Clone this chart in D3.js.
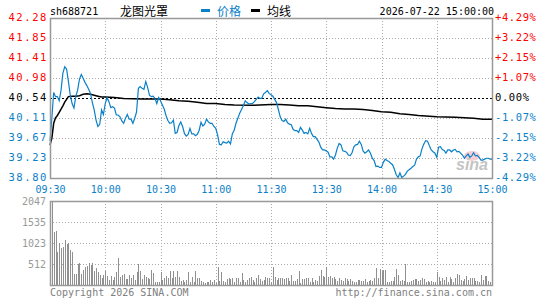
<!DOCTYPE html>
<html>
<head>
<meta charset="utf-8">
<script src="https://cdn.jsdelivr.net/npm/d3@7/dist/d3.min.js"></script>
<style>
  body { margin: 0; background: #fff; }
  svg { display: block; }
  .mono { font-family: "DejaVu Sans Mono", "Liberation Mono", monospace; }
  .cjk { font-family: "Noto Sans CJK SC", sans-serif; }
</style>
</head>
<body>
<svg id="chart" width="545" height="300"></svg>
<script>
// tick labels
const priceTicks = [42.28, 41.85, 41.41, 40.98, 40.54, 40.11, 39.67, 39.23, 38.80]
const pctTicks = ['+4.29%', '+3.22%', '+2.15%', '+1.07%', '0.00%', '-1.07%', '-2.15%', '-3.22%', '-4.29%']
const timeTicks = [0, 30, 60, 90, 120, 150, 180, 210, 240]
const timeLabels = ['09:30', '10:00', '10:30', '11:00', '11:30', '13:30', '14:00', '14:30', '15:00']
const volTicks = [2047, 1535, 1023, 512]
const prevClose = 40.54

// price, one value per minute (0 = 09:30, 240 = 15:00)
const price = [
  39.60, 40.10, 40.66, 40.57, 40.57, 40.48, 40.71, 41.08, 41.22, 41.17,
  40.90, 40.60, 40.42, 40.32, 40.57, 40.71, 40.95, 41.05, 40.97, 40.88,
  40.81, 40.73, 40.64, 40.44, 40.28, 40.06, 39.92, 39.97, 40.28, 40.18,
  40.42, 40.55, 40.46, 40.33, 40.35, 40.32, 40.17, 40.17, 40.13, 40.04,
  39.99, 40.10, 40.18, 40.08, 40.08, 39.99, 40.10, 40.24, 40.75, 40.79,
  40.75, 40.73, 40.90, 40.77, 40.60, 40.57, 40.58, 40.53, 40.42, 40.55,
  40.48, 40.39, 40.30, 40.16, 40.05, 39.99, 40.00, 40.06, 39.77, 39.79,
  39.94, 40.02, 39.92, 39.77, 39.71, 39.75, 39.88, 39.76, 39.76, 39.72,
  39.75, 39.84, 40.01, 39.93, 39.97, 40.08, 40.02, 39.99, 39.99, 39.92,
  39.88, 39.74, 39.53, 39.52, 39.59, 39.57, 39.56, 39.60, 39.54, 39.76,
  39.84, 39.99, 40.10, 40.21, 40.29, 40.37, 40.48, 40.44, 40.41, 40.42,
  40.42, 40.46, 40.51, 40.56, 40.53, 40.53, 40.63, 40.66, 40.70, 40.64,
  40.61, 40.58, 40.51, 40.44, 40.29, 40.13, 40.05, 40.03, 40.08, 40.00,
  39.97, 39.96, 39.86, 39.83, 39.83, 39.79, 39.90, 39.84, 39.77, 39.79,
  39.76, 39.88, 39.77, 39.70, 39.70, 39.64, 39.58, 39.47, 39.41, 39.41,
  39.39, 39.36, 39.26, 39.26, 39.21, 39.30, 39.45, 39.55, 39.52, 39.39,
  39.38, 39.36, 39.30, 39.29, 39.35, 39.48, 39.52, 39.53, 39.60, 39.53,
  39.39, 39.34, 39.37, 39.41, 39.34, 39.23, 39.18, 39.05, 39.06, 39.03,
  39.03, 39.14, 39.21, 39.18, 39.16, 39.12, 39.09, 38.99, 38.87, 38.81,
  38.91, 38.81, 38.84, 38.88, 38.95, 38.98, 39.01, 39.05, 39.08, 39.21,
  39.26, 39.28, 39.44, 39.54, 39.61, 39.60, 39.50, 39.41, 39.37, 39.34,
  39.25, 39.47, 39.48, 39.42, 39.40, 39.34, 39.41, 39.41, 39.37, 39.41,
  39.42, 39.37, 39.38, 39.34, 39.30, 39.23, 39.28, 39.32, 39.25, 39.28,
  39.35, 39.28, 39.29, 39.25, 39.19, 39.19, 39.21, 39.23, 39.23, 39.21,
  39.21
]

// average line, read at these minutes
const avgMinutes = [0, 1, 2, 3, 4, 5, 6, 7, 8, 9, 10, 12, 14, 16, 18, 20, 22, 24, 26, 28,
  30, 35, 40, 50, 60, 65, 70, 75, 80, 85, 90, 95, 100, 110, 120, 125, 130, 135, 140, 145,
  150, 155, 160, 165, 170, 175, 180, 185, 190, 195, 200, 210, 220, 225, 230, 235, 240]
const avgValues = [39.52, 39.66, 39.99, 40.11, 40.16, 40.23, 40.30, 40.37, 40.45, 40.51,
  40.57, 40.58, 40.58, 40.59, 40.62, 40.63, 40.62, 40.60, 40.58, 40.56,
  40.56, 40.55, 40.53, 40.52, 40.52, 40.50, 40.48, 40.47, 40.45, 40.42,
  40.42, 40.40, 40.39, 40.38, 40.40, 40.40, 40.39, 40.37, 40.37, 40.35,
  40.33, 40.31, 40.30, 40.30, 40.29, 40.27, 40.24, 40.23, 40.20, 40.18,
  40.16, 40.13, 40.12, 40.11, 40.10, 40.08, 40.08]

// volume per minute
const volume = [
  200, 2047, 1300, 1316, 812, 1015, 910, 934, 1097, 991,
  1015, 853, 812, 268, 268, 512, 536, 268, 366, 447,
  471, 528, 487, 528, 341, 422, 309, 244, 162, 244,
  341, 227, 130, 227, 122, 200, 325, 666, 195, 244,
  260, 146, 146, 244, 162, 244, 122, 325, 504, 341,
  146, 244, 203, 162, 146, 366, 300, 65, 81, 65,
  309, 122, 162, 227, 162, 341, 162, 341, 203, 341,
  203, 97, 122, 65, 120, 325, 65, 203, 65, 341,
  179, 179, 97, 65, 41, 65, 65, 122, 65, 122,
  41, 447, 97, 325, 97, 81, 146, 179, 146, 179,
  65, 179, 179, 65, 284, 122, 65, 122, 162, 203,
  122, 65, 162, 244, 146, 97, 120, 203, 162, 162,
  81, 447, 203, 122, 179, 162, 162, 146, 179, 162,
  97, 244, 97, 97, 146, 341, 41, 146, 146, 162,
  179, 65, 162, 81, 122, 97, 227, 366, 227, 203,
  447, 203, 227, 179, 203, 146, 97, 162, 122, 97,
  162, 146, 97, 146, 97, 65, 65, 122, 122, 97,
  97, 146, 65, 97, 122, 97, 162, 422, 162, 390,
  341, 366, 357, 65, 65, 97, 97, 203, 390, 244,
  97, 122, 97, 504, 65, 65, 97, 122, 146, 146,
  97, 122, 162, 146, 65, 97, 65, 97, 65, 65,
  309, 203, 97, 179, 122, 203, 65, 203, 146, 65,
  179, 260, 244, 122, 97, 146, 227, 122, 179, 162,
  179, 97, 97, 65, 244, 122, 227, 227, 97, 65,
  97
]

const RED = '#ff0000'
const BLUE = '#0a80c8'
const GRID = '#aaaaaa'
const FRAME = '#999999'

const svg = d3.select('#chart')

const x = d3.scaleLinear().domain([0, 240]).range([50, 492])
const y = d3.scaleLinear().domain([38.80, 42.28]).range([178, 18])
const yv = d3.scaleLinear().domain([0, 2047]).range([285, 201])

const labelColor = v => v > prevClose ? RED : (v < prevClose ? BLUE : '#000')

// header
svg.append('text').attr('class', 'mono').attr('x', 50).attr('y', 15)
  .attr('font-size', 10).text('sh688721')
svg.append('text').attr('class', 'cjk').attr('x', 120).attr('y', 16)
  .attr('font-size', 12).text('龙图光罩')
svg.append('rect').attr('x', 201).attr('y', 9).attr('width', 9).attr('height', 3).attr('fill', BLUE)
svg.append('text').attr('class', 'cjk').attr('x', 217).attr('y', 16)
  .attr('font-size', 12).attr('fill', BLUE).text('价格')
svg.append('rect').attr('x', 251).attr('y', 9).attr('width', 9).attr('height', 3).attr('fill', '#000')
svg.append('text').attr('class', 'cjk').attr('x', 267).attr('y', 16)
  .attr('font-size', 12).text('均线')
svg.append('text').attr('class', 'mono').attr('x', 494).attr('y', 15)
  .attr('text-anchor', 'end').attr('font-size', 10).text('2026-07-22 15:00:00')

// grids
const grid = svg.append('g').attr('shape-rendering', 'crispEdges')
grid.selectAll('.hg').data(priceTicks.filter(v => v !== prevClose && v !== 42.28 && v !== 38.80))
  .join('line')
  .attr('x1', 50).attr('x2', 492)
  .attr('y1', d => Math.round(y(d)) + 0.5).attr('y2', d => Math.round(y(d)) + 0.5)
  .attr('stroke', GRID).attr('stroke-dasharray', '1,2')
grid.selectAll('.vg').data(timeTicks.slice(1, -1))
  .join('line')
  .attr('x1', d => Math.round(x(d)) + 0.5).attr('x2', d => Math.round(x(d)) + 0.5)
  .attr('y1', 18).attr('y2', 178)
  .attr('stroke', GRID).attr('stroke-dasharray', '1,2')
grid.append('line')
  .attr('x1', 50).attr('x2', 492)
  .attr('y1', Math.round(y(prevClose)) + 0.5).attr('y2', Math.round(y(prevClose)) + 0.5)
  .attr('stroke', '#000').attr('stroke-dasharray', '2,2')

// volume grid
const vgrid = svg.append('g').attr('shape-rendering', 'crispEdges')
vgrid.selectAll('line.h').data(volTicks.slice(1))
  .join('line')
  .attr('x1', 50).attr('x2', 492)
  .attr('y1', d => Math.round(yv(d)) + 0.5).attr('y2', d => Math.round(yv(d)) + 0.5)
  .attr('stroke', GRID).attr('stroke-dasharray', '1,2')
vgrid.selectAll('line.v').data(timeTicks.slice(1, -1))
  .join('line')
  .attr('x1', d => Math.round(x(d)) + 0.5).attr('x2', d => Math.round(x(d)) + 0.5)
  .attr('y1', 201).attr('y2', 285)
  .attr('stroke', GRID).attr('stroke-dasharray', '1,2')

// sina watermark
svg.append('ellipse').attr('cx', 472).attr('cy', 156).attr('rx', 8).attr('ry', 5)
  .attr('fill', '#f5c4c8').attr('opacity', 0.8)
svg.append('text').attr('x', 456).attr('y', 170)
  .attr('font-family', 'Liberation Sans, sans-serif').attr('font-style', 'italic')
  .attr('font-weight', 'bold').attr('font-size', 16).attr('fill', '#c4c4c4').text('sina')

// volume bars
svg.append('g').attr('shape-rendering', 'crispEdges')
  .selectAll('rect').data(volume).join('rect')
  .attr('x', (d, i) => Math.round(x(i)))
  .attr('width', 1)
  .attr('y', d => Math.round(yv(Math.min(d, 2047))))
  .attr('height', d => 285 - Math.round(yv(Math.min(d, 2047))))
  .attr('fill', '#909090')

// lines
svg.append('path').datum(avgValues)
  .attr('fill', 'none').attr('stroke', '#000').attr('stroke-width', 1.5)
  .attr('d', d3.line().x((d, i) => x(avgMinutes[i])).y(d => y(d)))

svg.append('path').datum(price)
  .attr('fill', 'none').attr('stroke', BLUE).attr('stroke-width', 1.2)
  .attr('d', d3.line().x((d, i) => x(i)).y(d => y(d)))

// frames
svg.append('rect').attr('x', 50.5).attr('y', 18.5).attr('width', 442).attr('height', 160)
  .attr('fill', 'none').attr('stroke', FRAME).attr('stroke-width', 1.5)
svg.append('rect').attr('x', 50.5).attr('y', 201.5).attr('width', 442).attr('height', 84)
  .attr('fill', 'none').attr('stroke', FRAME).attr('stroke-width', 1.5)

// price axis
const leftAxis = svg.append('g').attr('class', 'mono')
  .attr('transform', 'translate(48,-1)')
  .call(d3.axisLeft(y).tickValues(priceTicks).tickSize(0).tickPadding(0).tickFormat(d3.format('.2f')))
leftAxis.select('.domain').remove()
leftAxis.selectAll('text')
  .attr('font-size', 10.5).attr('letter-spacing', '1.6px')
  .attr('fill', d => labelColor(d))
leftAxis.attr('font-family', null)

const rightAxis = svg.append('g').attr('class', 'mono')
  .attr('transform', 'translate(495,-1)')
  .call(d3.axisRight(y).tickValues(priceTicks).tickSize(0).tickPadding(0)
    .tickFormat((d, i) => pctTicks[i]))
rightAxis.select('.domain').remove()
rightAxis.selectAll('text')
  .attr('font-size', 10.5).attr('letter-spacing', '0.6px')
  .attr('fill', d => labelColor(d))
rightAxis.attr('font-family', null)

// time axis
const timeAxis = svg.append('g').attr('class', 'mono')
  .attr('transform', 'translate(0,185.5)')
  .call(d3.axisBottom(x).tickValues(timeTicks).tickSize(0).tickPadding(0)
    .tickFormat((d, i) => timeLabels[i]))
timeAxis.select('.domain').remove()
timeAxis.selectAll('text').attr('font-size', 10).attr('fill', BLUE)
timeAxis.attr('font-family', null)

// volume axis
const volAxis = svg.append('g').attr('class', 'mono')
  .attr('transform', 'translate(46,0)')
  .call(d3.axisLeft(yv).tickValues(volTicks).tickSize(0).tickPadding(0).tickFormat(d3.format('d')))
volAxis.select('.domain').remove()
volAxis.selectAll('text').attr('font-size', 10).attr('fill', '#999999')
volAxis.attr('font-family', null)

// footer
svg.append('text').attr('class', 'mono').attr('x', 50).attr('y', 296)
  .attr('font-size', 10).attr('fill', '#808080').text('Copyright 2026 SINA.COM')
svg.append('text').attr('class', 'mono').attr('x', 492).attr('y', 296)
  .attr('text-anchor', 'end').attr('font-size', 10).attr('fill', '#808080')
  .text('http://finance.sina.com.cn')
</script>
</body>
</html>
